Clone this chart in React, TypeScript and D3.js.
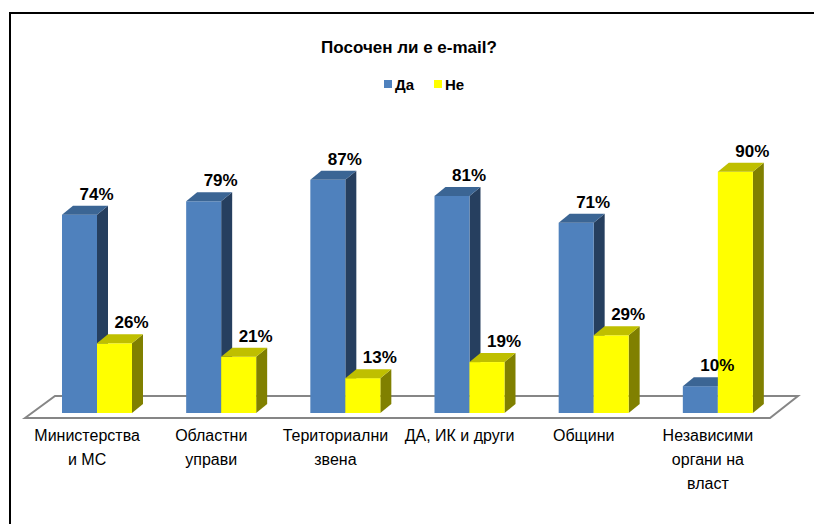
import React from "react";
import * as d3 from "d3";

const categories = [
  ["Министерства", "и МС"],
  ["Областни", "управи"],
  ["Териториални", "звена"],
  ["ДА, ИК и други"],
  ["Общини"],
  ["Независими", "органи на", "власт"],
];
const yesValues = [74, 79, 87, 81, 71, 10];
const noValues = [26, 21, 13, 19, 29, 90];
const seriesNames = ["Да", "Не"];

const W = 814;
const H = 524;
const font = "'Liberation Sans', Arial, sans-serif";

// 3d depth offset
const DX = 11;
const DY = -9;
const BAR_W = 35;

const colors = [
  { front: "#4F81BD", side: "#263F5F", top: "#3B6594" },
  { front: "#FFFF00", side: "#808000", top: "#BFBF00" },
];

const Bar = ({ x, y0, y1, c }) => (
  <g>
    <polygon
      points={`${x + BAR_W},${y1} ${x + BAR_W + DX},${y1 + DY} ${x + BAR_W + DX},${y0 + DY} ${x + BAR_W},${y0}`}
      fill={c.side}
    />
    <rect x={x} y={y1} width={BAR_W} height={y0 - y1} fill={c.front} />
    <polygon
      points={`${x},${y1} ${x + DX},${y1 + DY} ${x + BAR_W + DX},${y1 + DY} ${x + BAR_W},${y1}`}
      fill={c.top}
    />
  </g>
);

const App = () => {
  const idx = categories.map((_, i) => i);
  const x = d3.scaleBand<number>().domain(idx).range([25, 770]).padding(0);
  const y = d3.scaleLinear().domain([0, 100]).range([413, 145]);
  const series = [yesValues, noValues];

  return (
    <svg width={W} height={H} style={{ position: "absolute", left: 0, top: 0 }}>
      <rect x={0} y={0} width={W} height={H} fill="#fff" />
      <rect x={10} y={13} width={W + 10} height={H + 10} fill="#fff" stroke="#000" strokeWidth={2} />

      <text x={409} y={53} textAnchor="middle" fontFamily={font} fontWeight="bold" fontSize={17}>
        Посочен ли е e-mail?
      </text>

      {seriesNames.map((s, i) => (
        <g key={s} transform={`translate(${384 + i * 50},0)`}>
          <rect x={0} y={80} width={8} height={8} fill={colors[i].front} />
          <text x={11} y={90} fontFamily={font} fontWeight="bold" fontSize={15}>
            {s}
          </text>
        </g>
      ))}

      {/* floor */}
      <polygon points="25,418 55,396 798,396 770,418" fill="#fff" stroke="#868686" strokeWidth={2} />

      {idx.map((i) => {
        const bx = x(i) + 37;
        return (
          <g key={i}>
            {series.map((vals, s) => {
              const left = bx + s * BAR_W;
              return (
                <Bar key={s} x={left} y0={y(0)} y1={y(vals[i])} c={colors[s]} />
              );
            })}
          </g>
        );
      })}

      {idx.map((i) =>
        series.map((vals, s) => {
          const left = x(i) + 37 + s * BAR_W;
          return (
            <text
              key={`${i}-${s}`}
              x={left + BAR_W / 2 + 17}
              y={y(vals[i]) - 15}
              textAnchor="middle"
              fontFamily={font}
              fontWeight="bold"
              fontSize={17}
            >
              {vals[i]}%
            </text>
          );
        })
      )}

      {categories.map((lines, i) => (
        <text
          key={i}
          x={x(i) + x.bandwidth() / 2}
          y={441}
          textAnchor="middle"
          fontFamily={font}
          fontSize={16}
        >
          {lines.map((l, j) => (
            <tspan key={j} x={x(i) + x.bandwidth() / 2} dy={j === 0 ? 0 : 24}>
              {l}
            </tspan>
          ))}
        </text>
      ))}
    </svg>
  );
};

export default App;
